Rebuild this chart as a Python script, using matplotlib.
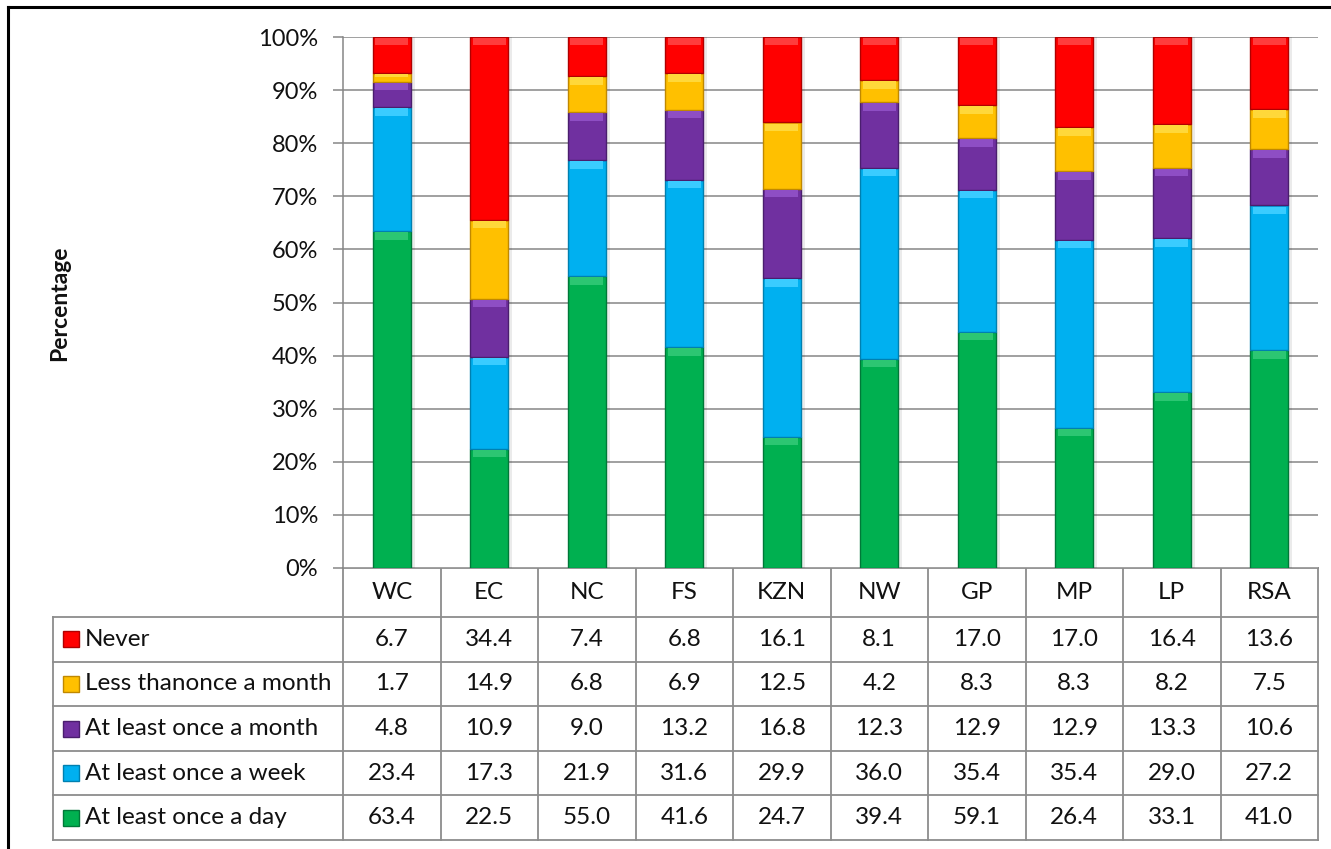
import matplotlib
matplotlib.use("Agg")
import matplotlib.pyplot as plt
import numpy as np

# --- data ---
regions = ["WC", "EC", "NC", "FS", "KZN", "NW", "GP", "MP", "LP", "RSA"]
series_names = ["Never", "Less thanonce a month", "At least once a month",
                "At least once a week", "At least once a day"]
never = [6.7, 34.4, 7.4, 6.8, 16.1, 8.1, 17.0, 17.0, 16.4, 13.6]
less_month = [1.7, 14.9, 6.8, 6.9, 12.5, 4.2, 8.3, 8.3, 8.2, 7.5]
once_month = [4.8, 10.9, 9.0, 13.2, 16.8, 12.3, 12.9, 12.9, 13.3, 10.6]
once_week = [23.4, 17.3, 21.9, 31.6, 29.9, 36.0, 35.4, 35.4, 29.0, 27.2]
once_day = [63.4, 22.5, 55.0, 41.6, 24.7, 39.4, 59.1, 26.4, 33.1, 41.0]

colors = ["#FF0000", "#FFC000", "#7030A0", "#00B0F0", "#00B050"]
edge_colors = ["#B00000", "#C08800", "#4A1E6E", "#0080B0", "#007838"]
light_colors = ["#FF3C3C", "#FFD83A", "#8E4EC4", "#3ACCFF", "#2CC672"]

plt.rcParams['font.family'] = ['Lato', 'DejaVu Sans']

W, H = 1331, 849
fig = plt.figure(figsize=(W / 100, H / 100), dpi=100)

# chart area in pixels
x0, x1 = 343, 1318
y_top, y_bot = 37, 568
ax = fig.add_axes([x0 / W, 1 - y_bot / H, (x1 - x0) / W, (y_bot - y_top) / H])

table_rows = [never, less_month, once_month, once_week, once_day]
data = np.array(table_rows)
pct = data / data.sum(axis=0) * 100  # 100% stacked

xpos = np.arange(len(regions))
bw = 0.39
bottom = np.zeros(len(regions))
# stack from bottom: day, week, month, less, never
for k in range(len(series_names) - 1, -1, -1):
    h = pct[k]
    ax.bar(xpos + 0.04, h, bw, bottom=bottom, color="#000000", alpha=0.08, zorder=2)
    ax.bar(xpos, h, bw, bottom=bottom, color=colors[k], edgecolor=edge_colors[k],
           linewidth=1.0, zorder=3)
    # bevel highlight on the top of each segment
    hl = np.minimum(h * 0.35, 1.4)
    ax.bar(xpos, hl, bw * 0.86, bottom=bottom + h - hl - 0.2, color=light_colors[k],
           linewidth=0, zorder=4)
    bottom += h

ax.set_xlim(-0.5, len(regions) - 0.5)
ax.set_ylim(0, 100)
ax.set_yticks(np.arange(0, 101, 10))
ax.set_yticklabels([f"{v}%" for v in range(0, 101, 10)], fontsize=17, color="#111111")
ax.set_xticks([])
ax.grid(axis="y", color="#868686", linewidth=1.1, zorder=0)
ax.set_axisbelow(True)
for s in ["top", "right", "bottom"]:
    ax.spines[s].set_visible(False)
ax.spines["left"].set_color("#868686")
ax.spines["left"].set_linewidth(1.1)
ax.tick_params(axis="y", length=7, width=1.1, color="#868686", pad=11)

# overlay in pixel coordinates for table and frame
ov = fig.add_axes([0, 0, 1, 1], zorder=-1)
ov.set_xlim(0, W)
ov.set_ylim(H, 0)
ov.axis("off")

ov.text(60, 303, "Percentage", rotation=90, ha="center", va="center",
        fontsize=16.5, fontweight="bold", color="#111111")

# frame lines (left and top)
ov.plot([8, W], [7, 7], color="black", linewidth=2.2)
ov.plot([8, 8], [7, H], color="black", linewidth=2.2)

grid_c = "#8C8C8C"
lw = 1.3
leg_left = 53
col_w = (x1 - x0) / len(regions)
hdr_bot = 617
row_h = 44.6
row_edges = [hdr_bot + i * row_h for i in range(len(series_names) + 1)]
tab_bot = row_edges[-1]

# horizontal lines
ov.plot([x0, x1], [y_bot, y_bot], color=grid_c, linewidth=lw)
for y in row_edges:
    ov.plot([leg_left, x1], [y, y], color=grid_c, linewidth=lw)
# vertical lines
for i in range(len(regions) + 1):
    xx = x0 + i * col_w
    ov.plot([xx, xx], [y_bot, tab_bot], color=grid_c, linewidth=lw)
ov.plot([leg_left, leg_left], [hdr_bot, tab_bot], color=grid_c, linewidth=lw)

fs = 17.5
# header
for i, r in enumerate(regions):
    ov.text(x0 + (i + 0.5) * col_w, (y_bot + hdr_bot) / 2, r, ha="center",
            va="center", fontsize=fs, color="#111111")

# rows
for j, name in enumerate(series_names):
    yc = row_edges[j] + row_h / 2
    ov.add_patch(plt.Rectangle((63, yc - 8), 16, 16, facecolor=colors[j],
                               edgecolor=edge_colors[j], linewidth=1.0))
    ov.text(85, yc, name, ha="left", va="center", fontsize=fs, color="#111111")
    for i in range(len(regions)):
        ov.text(x0 + (i + 0.5) * col_w, yc, f"{table_rows[j][i]:.1f}", ha="center",
                va="center", fontsize=fs, color="#111111")

fig.savefig("out.png", dpi=100)
